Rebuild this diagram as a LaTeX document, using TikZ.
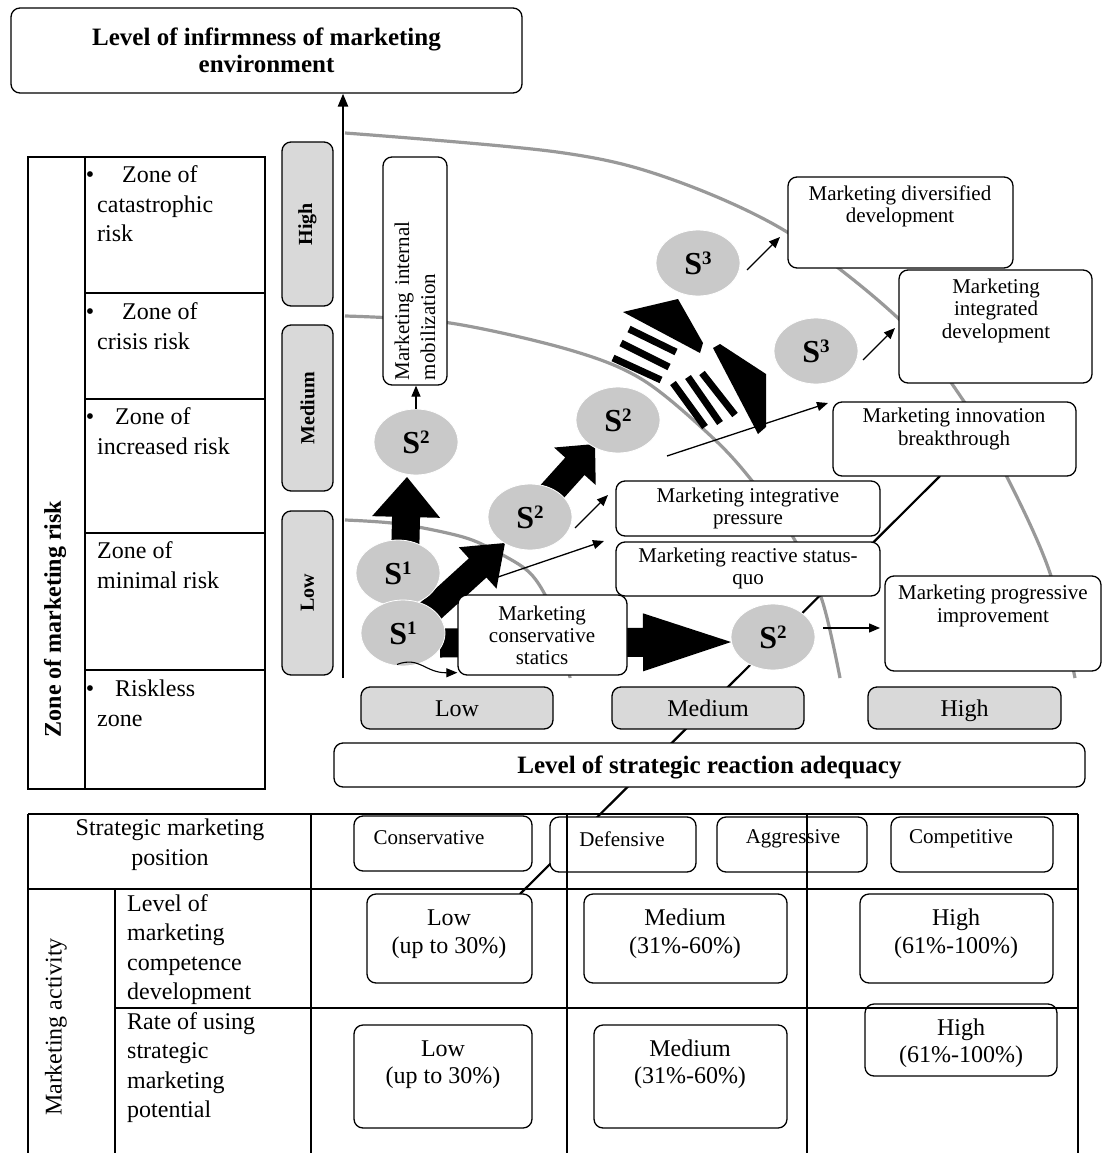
\documentclass[tikz,border=0pt]{standalone}
\usepackage{fontspec}
\setmainfont{Liberation Serif}
\usetikzlibrary{calc,arrows.meta,shapes.geometric}
\definecolor{boxgray}{gray}{0.85}
\definecolor{sgray}{gray}{0.79}
\definecolor{arcgray}{gray}{0.6}
\pgfdeclarelayer{arcs}
\pgfdeclarelayer{arrw}
\pgfsetlayers{arcs,arrw,main}
\newcommand\fs[2]{\fontsize{#1}{#2}\selectfont}
\newcommand\sidx[1]{S\raisebox{10pt}{\fs{19}{19}\bfseries #1}}
\newcommand\fatarrow[5]{%
  \coordinate (fa-h) at ($(#2)!#5!(#1)$);
  \fill ($(#1)!#3!90:(#2)$) -- ($(fa-h)!#3!90:(#2)$) -- ($(fa-h)!#4!90:(#2)$) -- (#2)
     -- ($(fa-h)!#4!-90:(#2)$) -- ($(fa-h)!#3!-90:(#2)$) -- ($(#1)!#3!-90:(#2)$) -- cycle;}
\begin{document}
\begin{tikzpicture}[x=1pt,y=-1pt,
  rbox/.style={draw, line width=1.3pt, rounded corners=9pt, fill=white, inner sep=0pt},
  gbox/.style={rbox, fill=boxgray},
  tx/.style={inner sep=0pt, align=center, font=\fs{21}{22.5}},
  ltx/.style={inner sep=0pt, align=left, font=\fs{24}{29.5}},
  ctx/.style={inner sep=0pt, align=center, font=\fs{24}{28}},
  sell/.style={ellipse, fill=sgray, draw=white, line width=0.8pt, minimum width=84pt, minimum height=66pt, inner sep=0pt, font=\fs{32}{32}\bfseries},
  tarrow/.style={-{Triangle[length=11pt,width=9pt]}, line width=1.3pt},
  arcl/.style={draw=arcgray, line width=3.2pt},
  tline/.style={line width=2pt},
  axlab/.style={gbox, minimum height=42pt, font=\fs{24}{24}, text height=16pt, text depth=0pt, yshift=-2pt}]
\useasboundingbox (0,0) rectangle (1103,1153);

% ---------- S ellipses
\node[sell] (s1a) at (398,573) {\sidx{1}};
\node[sell] (s1b) at (403,633) {\sidx{1}};
\node[sell] (s2a) at (416,442) {\sidx{2}};
\node[sell] (s2b) at (530,517) {\sidx{2}};
\node[sell] (s2c) at (618,420) {\sidx{2}};
\node[sell] (s2d) at (773,637) {\sidx{2}};
\node[sell] (s3a) at (698,263) {\sidx{3}};
\node[sell] (s3b) at (816,351) {\sidx{3}};

% ---------- boxes
\node[rbox, minimum width=511pt, minimum height=85pt, align=center, font=\fs{25}{27}\bfseries] (title) at (266.5,50.5) {Level of infirmness of marketing\\environment};
\node[rbox, rotate=90, minimum width=228pt, minimum height=64pt, inner xsep=5pt, text width=218pt, align=left, font=\fs{21}{26}] (mob) at (415,271) {Marketing internal\\mobilization};
\node[rbox, minimum width=225pt, minimum height=91pt] (div) at (900.5,222.5) {};
\node[rbox, minimum width=193pt, minimum height=113pt] (integ) at (995.5,326.5) {};
\node[rbox, minimum width=243pt, minimum height=74pt] (innov) at (954.5,439) {};
\node[rbox, minimum width=264pt, minimum height=55pt] (ipress) at (748,508.5) {};
\node[rbox, minimum width=264pt, minimum height=54pt] (react) at (748,569) {};
\node[rbox, minimum width=169pt, minimum height=80pt] (stat) at (542.5,635) {};
\node[rbox, minimum width=216pt, minimum height=95pt] (prog) at (993,623.5) {};
\node[tx] (divt) at (900,206.5) {Marketing diversified\\development};
\node[tx] (integt) at (996,310.5) {Marketing\\integrated\\development};
\node[tx] (innovt) at (954,429) {Marketing innovation\\breakthrough};
\node[tx] (ipresst) at (748,508.5) {Marketing integrative\\pressure};
\node[tx] (reactt) at (748,568.5) {Marketing reactive status-\\quo};
\node[tx, font=\fs{21}{22}] (statt) at (542,635) {Marketing\\conservative\\statics};
\node[tx] (progt) at (993,606) {Marketing progressive\\improvement};

% vertical axis labels
\node[gbox, rotate=90, minimum width=164pt, minimum height=51pt, font=\fs{20}{20}\bfseries] (hiB) at (307.5,224) {High};
\node[gbox, rotate=90, minimum width=166pt, minimum height=51pt, font=\fs{20}{20}\bfseries] (meB) at (307.5,408) {Medium};
\node[gbox, rotate=90, minimum width=164pt, minimum height=51pt, font=\fs{20}{20}\bfseries] (loB) at (307.5,593) {Low};
% horizontal axis labels
\node[axlab, minimum width=192pt] (lowX) at (457,706) {Low};
\node[axlab, minimum width=192pt] (medX) at (708,706) {Medium};
\node[axlab, minimum width=193pt] (highX) at (964.5,706) {High};
\node[rbox, minimum width=751pt, minimum height=44pt, font=\fs{25}{25}\bfseries, text height=17pt, text depth=0pt, yshift=-3pt] (level) at (709.5,762) {Level of strategic reaction adequacy};

% table boxes
\node[rbox, minimum width=178pt, minimum height=55pt] (cons) at (443,843.5) {};
\node[rbox, minimum width=146pt, minimum height=55pt] (def) at (623,844.5) {};
\node[rbox, minimum width=150pt, minimum height=55pt] (agg) at (792,844.5) {};
\node[rbox, minimum width=162pt, minimum height=55pt] (comp) at (972,844.5) {};
\node[tx] (const) at (429,838) {Conservative};
\node[tx] (deft) at (622,839) {Defensive};
\node[tx] (aggt) at (793,839) {Aggressive};
\node[tx] (compt) at (961,839) {Competitive};
\node[rbox, minimum width=165pt, minimum height=89pt] (lowA) at (449.5,938.5) {};
\node[rbox, minimum width=203pt, minimum height=89pt] (medA) at (685.5,938.5) {};
\node[rbox, minimum width=193pt, minimum height=89pt] (highA) at (956.5,938.5) {};
\node[rbox, minimum width=178pt, minimum height=103pt] (lowB) at (443,1076.5) {};
\node[rbox, minimum width=193pt, minimum height=103pt] (medB) at (690.5,1076.5) {};
\node[rbox, minimum width=192pt, minimum height=72pt] (highB) at (961,1040) {};
\node[ctx] (lowAt) at (449,934) {Low\\(up to 30\%)};
\node[ctx] (medAt) at (685,934) {Medium\\(31\%-60\%)};
\node[ctx] (highAt) at (956,934) {High\\(61\%-100\%)};
\node[ctx, font=\fs{24}{27}] (lowBt) at (443,1065) {Low\\(up to 30\%)};
\node[ctx, font=\fs{24}{27}] (medBt) at (690,1064) {Medium\\(31\%-60\%)};
\node[ctx, font=\fs{24}{27}] (highBt) at (961,1043.5) {High\\(61\%-100\%)};

% ---------- background layers
\begin{pgfonlayer}{arcs}
\draw[arcl] plot[smooth, tension=0.55] coordinates {(345,133) (557,152) (668,178) (787,232) (900,320) (963,400) (1007,477) (1050,573) (1075,678)};
\draw[arcl] plot[smooth, tension=0.55] coordinates {(345,316) (450,323) (570,350) (643,380) (713,438) (753,482) (793,537) (822,600) (840,678)};
\draw[arcl] plot[smooth, tension=0.55] coordinates {(345,520) (400,524) (463,537) (497,552) (530,573) (550,605) (565,650) (570,678)};
\end{pgfonlayer}
\begin{pgfonlayer}{arrw}
\coordinate (dl1) at (520,894);
\coordinate (dl2) at (940,476);
\draw[line width=2.2pt] (dl1) -- (dl2);
\coordinate (ax0) at (343,678);
\draw[line width=2.4pt, -{Triangle[length=13pt,width=10pt]}] (ax0) -- (ax0 |- title.south);
% fat arrows
\coordinate (f1p) at (405,560); \coordinate (f1q) at (407,477);
\fatarrow{f1p}{f1q}{14pt}{34pt}{40pt}
\coordinate (f2p) at (415,625); \coordinate (f2q) at (505,543);
\fatarrow{f2p}{f2q}{13pt}{28pt}{37pt}
\coordinate (f3p) at (540,505); \coordinate (f3q) at (595,444);
\fatarrow{f3p}{f3q}{13pt}{28pt}{30pt}
\coordinate (f4p) at (440,643); \coordinate (f4q) at (731,642);
\fatarrow{f4p}{f4q}{14.5pt}{29pt}{88pt}
% striped arrows
\fill (623,312) -- (678,299) -- (703,343) -- (700,353) -- cycle;
\draw[line width=7pt] (629,329) -- (676,352);
\draw[line width=7pt] (621,343) -- (669,367);
\draw[line width=7pt] (613,358) -- (661,380);
\fill (713,348) -- (720,344) -- (766,374) -- (766,427) -- (758,434) -- cycle;
\draw[line width=7pt] (702,373) -- (735,415);
\draw[line width=7pt] (688,377) -- (720,423);
\draw[line width=7pt] (673,383) -- (705,427);
\end{pgfonlayer}

% ---------- thin arrows
\draw[tarrow] (s2a.north) -- (s2a.north |- mob.west);
\draw[tarrow, line width=1.1pt] ($(s1b.south)+(-6,-2)$) .. controls (420,656) and (425,673) .. ($(stat.south west)+(0,-3)$);
\coordinate (a1s) at (498,577); \coordinate (a1e) at (604,541);
\draw[tarrow] (a1s) -- (a1e);
\coordinate (a2s) at (575,528); \coordinate (a2e) at (608,495);
\draw[tarrow] (a2s) -- (a2e);
\coordinate (a3s) at (667,456); \coordinate (a3e) at (828,403);
\draw[tarrow] (a3s) -- (a3e);
\coordinate (a4s) at (747,270); \coordinate (a4e) at (780,237);
\draw[tarrow] (a4s) -- (a4e);
\coordinate (a5s) at (863,360); \coordinate (a5e) at (895,328);
\draw[tarrow] (a5s) -- (a5e);
\coordinate (a6s) at (823,628); \coordinate (a6e) at (880,628);
\draw[tarrow] (a6s) -- (a6e);

% ---------- left table
\draw[tline] (28,157) rectangle (265,789);
\draw[tline] (85,157) -- (85,789);
\foreach \y in {293,399,533,670} \draw[tline] (85,\y) -- (265,\y);
\node[rotate=90, inner sep=0pt, font=\fs{24}{24}\bfseries] (zmr) at (55,619) {Zone of marketing risk};
\node[ltx, anchor=west] (z1) at (97,204) {\llap{•\hspace{3pt}}\hspace*{25pt}Zone of\\catastrophic\\risk};
\node[ltx, anchor=west] (z2) at (97,326) {\llap{•\hspace{3pt}}\hspace*{25pt}Zone of\\crisis risk};
\node[ltx, anchor=west] (z3) at (97,431) {\llap{•\hspace{3pt}}\hspace*{18pt}Zone of\\increased risk};
\node[ltx, anchor=west] (z4) at (97,565) {Zone of\\minimal risk};
\node[ltx, anchor=west] (z5) at (97,703.5) {\llap{•\hspace{3pt}}\hspace*{18pt}Riskless\\zone};

% ---------- bottom table
\draw[tline] (28,814) -- (1078,814);
\draw[tline] (28,889) -- (1078,889);
\draw[tline] (115,1008) -- (1078,1008);
\foreach \x in {28,311,567,807,1078} \draw[tline] (\x,814) -- (\x,1153);
\draw[tline] (115,889) -- (115,1153);
\node[ctx, font=\fs{24}{30}] (smp) at (170,845) {Strategic marketing\\position};
\node[rotate=90, inner sep=0pt, font=\fs{24}{24}] (mact) at (56,1027) {Marketing activity};
\node[ltx, anchor=west] (lmc) at (127,949.5) {Level of\\marketing\\competence\\development};
\node[ltx, anchor=west] (rus) at (127,1067.5) {Rate of using\\strategic\\marketing\\potential};
\end{tikzpicture}
\end{document}
